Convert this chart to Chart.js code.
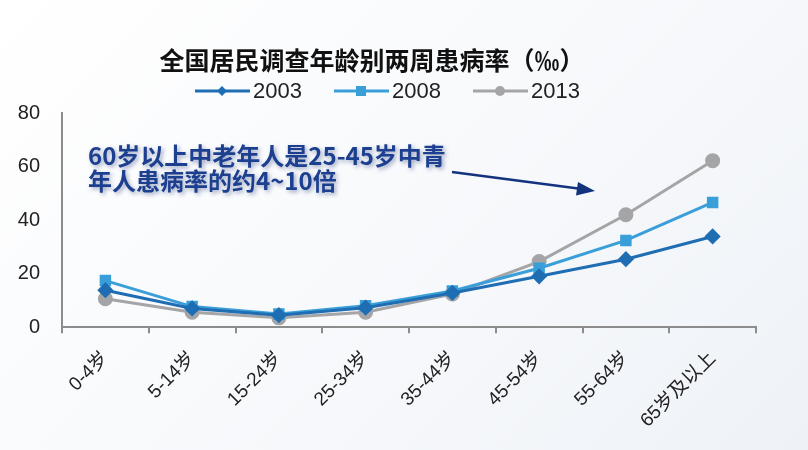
<!DOCTYPE html>
<html>
<head>
<meta charset="utf-8">
<script src="https://cdn.jsdelivr.net/npm/chart.js@4/dist/chart.umd.min.js"></script>
<style>
  html, body { margin: 0; padding: 0; }
  body { width: 808px; height: 450px; background: linear-gradient(135deg, #ffffff 0%, #f6f8fb 60%, #eef2f7 100%); }
  #wrap { width: 808px; height: 450px; position: relative; }
</style>
</head>
<body>
<div id="wrap"><canvas id="chart"></canvas></div>
<script>
// 年龄组
const ageGroups = ["0-4岁", "5-14岁", "15-24岁", "25-34岁", "35-44岁", "45-54岁", "55-64岁", "65岁及以上"];
// 两周患病率 (‰)
const rate2003 = [13.8, 7.0, 4.5, 7.3, 12.8, 19.0, 25.4, 33.9];
const rate2008 = [17.4, 7.7, 4.9, 8.0, 13.5, 22.0, 32.4, 46.6];
const rate2013 = [10.6, 5.6, 3.5, 5.6, 12.4, 24.5, 42.0, 62.2];
const yTicks = [0, 20, 40, 60, 80];

const titleText = "全国居民调查年龄别两周患病率（‰）";
const noteLines = ["60岁以上中老年人是25-45岁中青", "年人患病率的约4~10倍"];

const colors = { y2003: "#1f6db3", y2008: "#3a9fd8", y2013: "#a5a5a7" };
const fontFamily = '"Liberation Sans", Arial, "Noto Sans CJK SC", sans-serif';

// 标题、图例、注释和箭头
const decorPlugin = {
  id: 'decor',
  afterDraw(chart) {
    const ctx = chart.ctx;
    ctx.save();
    // 标题
    ctx.fillStyle = "#111";
    ctx.font = 'bold 25px "Noto Sans CJK SC", sans-serif';
    ctx.textAlign = "center";
    ctx.textBaseline = "middle";
    ctx.fillText(titleText, 372, 60);

    // 图例
    const items = [
      { x: 195, label: "2003", color: colors.y2003, style: "diamond" },
      { x: 334, label: "2008", color: colors.y2008, style: "rect" },
      { x: 473, label: "2013", color: colors.y2013, style: "circle" }
    ];
    ctx.textAlign = "left";
    ctx.font = '22px ' + fontFamily;
    for (const it of items) {
      const y = 91;
      ctx.strokeStyle = it.color;
      ctx.fillStyle = it.color;
      ctx.lineWidth = 3;
      ctx.beginPath();
      ctx.moveTo(it.x, y);
      ctx.lineTo(it.x + 55, y);
      ctx.stroke();
      const cx = it.x + 27;
      ctx.beginPath();
      if (it.style === "diamond") {
        ctx.moveTo(cx, y - 5); ctx.lineTo(cx + 5, y); ctx.lineTo(cx, y + 5); ctx.lineTo(cx - 5, y);
        ctx.closePath();
      } else if (it.style === "rect") {
        ctx.rect(cx - 5, y - 5, 10, 10);
      } else {
        ctx.arc(cx, y, 5, 0, Math.PI * 2);
      }
      ctx.fill();
      ctx.fillStyle = "#222";
      ctx.fillText(it.label, it.x + 58, y + 1);
    }

    // 注释文字
    ctx.font = 'bold 24px "Noto Sans CJK SC", sans-serif';
    ctx.fillStyle = "#1c3f8f";
    ctx.shadowColor = "rgba(40,60,120,0.45)";
    ctx.shadowBlur = 4;
    ctx.shadowOffsetX = 2;
    ctx.shadowOffsetY = 2;
    ctx.fillText(noteLines[0], 88, 156);
    ctx.fillText(noteLines[1], 88, 181);

    // 箭头
    ctx.shadowColor = "transparent";
    ctx.strokeStyle = "#13337f";
    ctx.fillStyle = "#13337f";
    ctx.lineWidth = 2.5;
    ctx.beginPath();
    ctx.moveTo(452, 172);
    ctx.lineTo(582, 189);
    ctx.stroke();
    ctx.beginPath();
    ctx.moveTo(595, 191);
    ctx.lineTo(576, 195.5);
    ctx.lineTo(578, 182);
    ctx.closePath();
    ctx.fill();
    ctx.restore();
  }
};

const ctx = document.getElementById('chart').getContext('2d');

new Chart(ctx, {
  type: 'line',
  data: {
    labels: ageGroups,
    datasets: [
      {
        label: '2013', data: rate2013, borderColor: colors.y2013, backgroundColor: colors.y2013,
        pointStyle: 'circle', pointRadius: 6, borderWidth: 3, order: 3
      },
      {
        label: '2008', data: rate2008, borderColor: colors.y2008, backgroundColor: colors.y2008,
        pointStyle: 'rect', pointRadius: 6, borderWidth: 3, order: 2
      },
      {
        label: '2003', data: rate2003, borderColor: colors.y2003, backgroundColor: colors.y2003,
        pointStyle: 'rectRot', pointRadius: 6, borderWidth: 3, order: 1
      }
    ]
  },
  options: {
    responsive: true,
    maintainAspectRatio: false,
    animation: false,
    layout: { padding: { top: 113, right: 52, bottom: 4, left: 0 } },
    plugins: {
      legend: { display: false },
      title: { display: false },
      tooltip: { enabled: false }
    },
    scales: {
      x: {
        offset: true,
        grid: { display: true, drawOnChartArea: false, offset: true, tickLength: 6, color: '#8c8c8c', lineWidth: 2 },
        border: { color: '#8c8c8c', width: 2 },
        ticks: {
          minRotation: 45, maxRotation: 45, color: '#222',
          font: { size: 19, family: fontFamily }, padding: 14
        }
      },
      y: {
        min: 0, max: 80,
        afterBuildTicks(scale) { scale.ticks = yTicks.map(v => ({ value: v })); },
        afterFit(scale) { scale.width = 62; },
        grid: { display: false },
        border: { color: '#8c8c8c', width: 2 },
        ticks: { color: '#222', font: { size: 20, family: fontFamily }, padding: 14 }
      }
    }
  },
  plugins: [decorPlugin]
});
</script>
</body>
</html>
